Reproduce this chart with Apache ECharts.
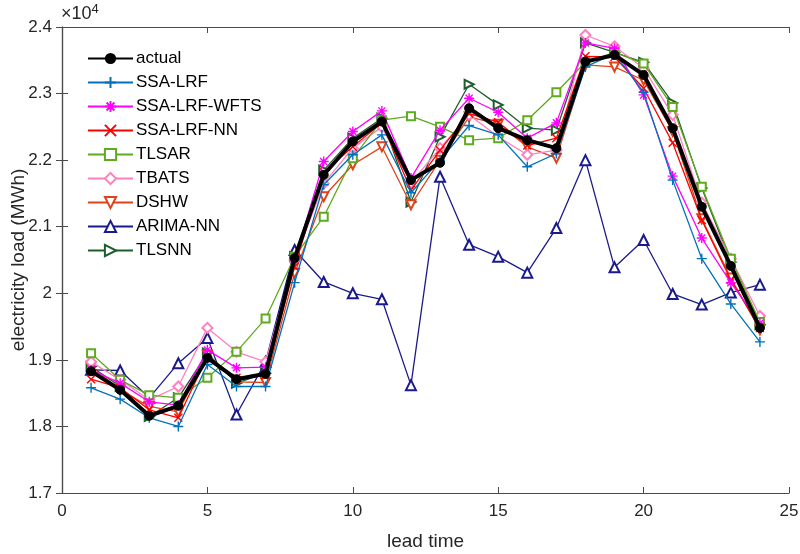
<!DOCTYPE html>
<html>
<head>
<meta charset="utf-8">
<script src="https://cdn.jsdelivr.net/npm/echarts@6/dist/echarts.min.js"></script>
<style>html,body{margin:0;padding:0;background:#fff}#c{width:800px;height:554px}</style>
</head>
<body>
<div id="c"></div>
<script>
const leadTime = [1,2,3,4,5,6,7,8,9,10,11,12,13,14,15,16,17,18,19,20,21,22,23,24];
const seriesNames = ['actual','SSA-LRF','SSA-LRF-WFTS','SSA-LRF-NN','TLSAR','TBATS','DSHW','ARIMA-NN','TLSNN'];
const actual      = [18830,18550,18160,18310,19030,18710,18790,20530,21780,22280,22580,21700,21960,22780,22480,22300,22180,23480,23580,23280,22480,21300,20410,19480];
const ssaLrf      = [18580,18410,18130,18000,18930,18600,18600,20160,21630,22080,22380,21510,22000,22520,22380,21900,22100,23400,23600,23020,21700,20520,19840,19270];
const ssaLrfWfts  = [18850,18650,18370,18320,19150,18880,18890,20500,21980,22430,22740,21730,22450,22930,22720,22330,22560,23760,23680,22980,21760,20830,20160,19550];
const ssaLrfNn    = [18710,18580,18250,18130,19050,18730,18770,20400,21820,22200,22560,21550,22150,22700,22570,22220,22330,23560,23550,23080,22260,21100,20200,19480];
const tlsar       = [19100,18700,18470,18430,18730,19120,19620,20550,21150,22030,22600,22660,22500,22300,22330,22600,23020,23470,23620,23450,22800,21600,20520,19570];
const tbats       = [18970,18700,18400,18600,19480,19120,18970,20500,21650,22180,22500,21660,22180,22680,22350,22080,22150,23880,23710,23380,22680,21360,20520,19660];
const dshw        = [18900,18550,18300,18220,19070,18670,18660,20300,21450,21930,22200,21330,22000,22650,22540,22200,22030,23430,23400,23200,22430,21120,20230,19450];
const arimaNn     = [18850,18840,18430,18950,19330,18180,18970,20650,20170,20000,19910,18620,21750,20730,20550,20310,20980,22000,20390,20800,19990,19830,20010,20130];
const tlsnn       = [18900,18600,18150,18430,19100,18650,18800,20550,21850,22330,22630,21370,22350,23140,22830,22480,22450,23760,23620,23470,22860,21580,20470,19530];
const yTicks = [17000,18000,19000,20000,21000,22000,23000,24000];

const values = [actual, ssaLrf, ssaLrfWfts, ssaLrfNn, tlsar, tbats, dshw, arimaNn, tlsnn];
const colors = ['#000000','#0072BD','#FF00FF','#FF0000','#5FAA1E','#FF80C0','#E0421A','#1A1A8C','#1E5E2E'];
const plus  = 'path://M5,0 L5,10 M0,5 L10,5';
const star  = 'path://M5,0 L5,10 M0,5 L10,5 M1.5,1.5 L8.5,8.5 M8.5,1.5 L1.5,8.5';
const cross = 'path://M0,0 L10,10 M10,0 L0,10';
const symbols = ['circle', plus, star, cross, 'emptyRect', 'emptyDiamond', 'emptyTriangle', 'emptyTriangle', 'emptyTriangle'];
const sizes   = [9, 10, 10, 8, 8, 10, 9, 10, 9];
const rotates = [0, 0, 0, 0, 0, 0, 180, 0, -90];

const series = seriesNames.map((n, i) => {
  const isPath = symbols[i].startsWith('path://');
  return {
    name: n,
    type: 'line',
    data: leadTime.map((t, k) => [t, values[i][k]]),
    symbol: symbols[i],
    symbolSize: sizes[i],
    symbolRotate: rotates[i],
    showAllSymbol: true,
    z: i === 0 ? 5 : 3 + (9 - i) * 0.01,
    lineStyle: { color: colors[i], width: i === 0 ? 4 : 1.3 },
    itemStyle: isPath ? { color: 'none', borderColor: colors[i], borderWidth: 1.4 }
                      : (i === 0 ? { color: '#000', borderColor: '#000' } : { color: colors[i], borderColor: colors[i], borderWidth: 1.3 }),
    emphasis: { disabled: true },
    animation: false
  };
});

const chart = echarts.init(document.getElementById('c'));
const axisColor = '#4a4a4a';
const labelStyle = { color: '#262626', fontSize: 17, fontFamily: 'Liberation Sans, Arial, sans-serif' };
chart.setOption({
  backgroundColor: '#fff',
  animation: false,
  grid: { left: 62, right: 11, top: 27, bottom: 61, outerBoundsMode: 'none', containLabel: false },
  legend: {
    orient: 'vertical', left: 82, top: 45,
    data: seriesNames,
    itemWidth: 45, itemHeight: 14, itemGap: 7,
    textStyle: { color: '#000', fontSize: 17, lineHeight: 17, fontFamily: 'Liberation Sans, Arial, sans-serif', padding: [0,0,0,-2] }
  },
  graphic: [{
    type: 'text', left: 61, top: 3,
    style: {
      text: '{a|×10}{b|4}',
      rich: {
        a: { fontSize: 18, fill: '#262626', fontFamily: 'Liberation Sans, Arial, sans-serif' },
        b: { fontSize: 13, fill: '#262626', verticalAlign: 'top', padding: [0,0,10,0], fontFamily: 'Liberation Sans, Arial, sans-serif' }
      }
    }
  }],
  xAxis: [{
    type: 'value', min: 0, max: 25, interval: 5,
    name: 'lead time', nameLocation: 'middle', nameGap: 39, nameMoveOverlap: false,
    nameTextStyle: { color: '#262626', fontSize: 19, fontFamily: 'Liberation Sans, Arial, sans-serif' },
    axisLine: { lineStyle: { color: axisColor, width: 1.2 } },
    axisTick: { inside: true, length: 6, lineStyle: { color: axisColor } },
    axisLabel: Object.assign({ margin: 10 }, labelStyle),
    splitLine: { show: false }
  }, {
    type: 'value', min: 0, max: 25, interval: 5, position: 'top',
    axisLine: { lineStyle: { color: axisColor, width: 1.2 } },
    axisTick: { inside: true, length: 6, lineStyle: { color: axisColor } },
    axisLabel: { show: false }, splitLine: { show: false }
  }],
  yAxis: [{
    type: 'value', min: yTicks[0], max: yTicks[yTicks.length - 1], interval: 1000,
    name: 'electricity load (MWh)', nameLocation: 'middle', nameGap: 34, nameMoveOverlap: false,
    nameTextStyle: { color: '#262626', fontSize: 19, fontFamily: 'Liberation Sans, Arial, sans-serif' },
    axisLine: { show: true, lineStyle: { color: axisColor, width: 1.2 } },
    axisTick: { show: true, inside: true, length: 6, lineStyle: { color: axisColor } },
    axisLabel: Object.assign({ margin: 10, formatter: v => String(+(v / 10000).toFixed(1)) }, labelStyle),
    splitLine: { show: false }
  }, {
    type: 'value', min: yTicks[0], max: yTicks[yTicks.length - 1], interval: 1000, position: 'right',
    axisLine: { show: true, lineStyle: { color: axisColor, width: 1.2 } },
    axisTick: { show: true, inside: true, length: 6, lineStyle: { color: axisColor } },
    axisLabel: { show: false }, splitLine: { show: false }
  }],
  series: series
});
</script>
</body>
</html>
